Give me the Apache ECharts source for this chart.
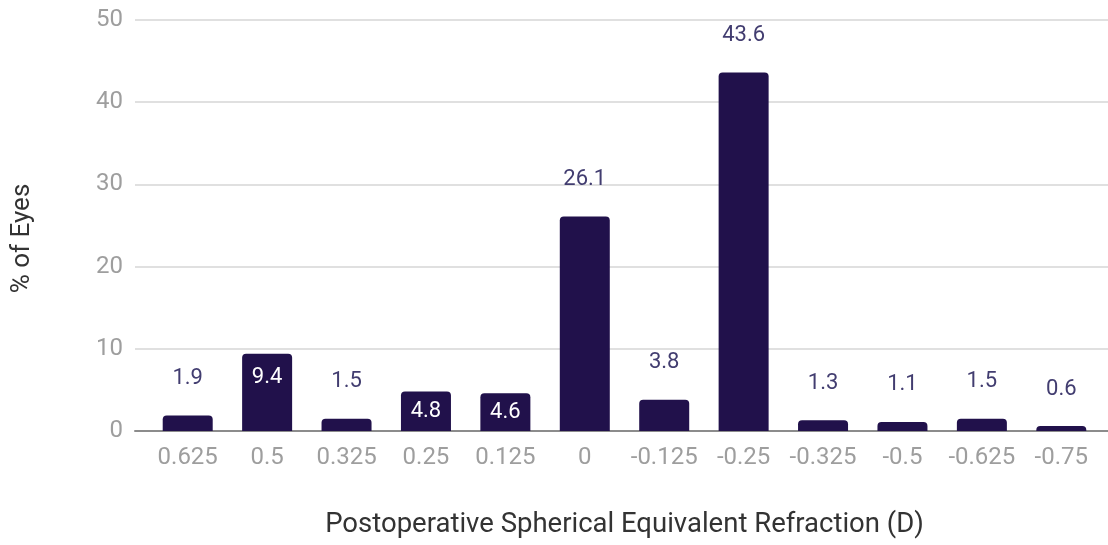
<!DOCTYPE html>
<html>
<head>
<meta charset="utf-8">
<script src="https://cdn.jsdelivr.net/npm/echarts@6/dist/echarts.min.js"></script>
<style>
  html, body { margin: 0; padding: 0; background: #fff; }
  #main { width: 1108px; height: 545px; }
</style>
</head>
<body>
<div id="main"></div>
<script>
var categories = ['0.625', '0.5', '0.325', '0.25', '0.125', '0', '-0.125', '-0.25', '-0.325', '-0.5', '-0.625', '-0.75'];
var eyesPct = [1.9, 9.4, 1.5, 4.8, 4.6, 26.1, 3.8, 43.6, 1.3, 1.1, 1.5, 0.6];
var yTicks = [0, 10, 20, 30, 40, 50];

function initBarChart(id){
    var myChart = echarts.init(document.getElementById(id));

    // labels that sit inside the bar in the original
    var insideTop = {1: true};
    var insideMid = {3: true, 4: true};
    var barData = [];
    for (var i = 0; i < eyesPct.length; i++) {
        var obj = {value: eyesPct[i]};
        if (insideTop[i]) {
            obj.label = {position: 'insideTop', distance: 13, color: '#ffffff'};
        } else if (insideMid[i]) {
            obj.label = {position: 'inside', color: '#ffffff'};
        }
        barData.push(obj);
    }

    var option = {
        animation: false,
        grid: [
            {left: 135, right: 0, top: 20, bottom: 114},
            {left: 148, right: 7, top: 20, bottom: 114}
        ],
        xAxis: [
            {
                gridIndex: 0,
                type: 'value',
                min: 0, max: 1,
                axisLine: {show: true, onZero: false, lineStyle: {color: '#8c8c8c', width: 2}},
                axisTick: {show: false},
                axisLabel: {show: false},
                splitLine: {show: false}
            },
            {
                gridIndex: 1,
                type: 'category',
                data: categories,
                axisLine: {show: false},
                axisTick: {show: false},
                axisLabel: {interval: 0, hideOverlap: false, color: '#9e9e9e', fontSize: 24, fontFamily: 'Roboto', margin: 15},
                name: 'Postoperative Spherical Equivalent Refraction (D)',
                nameLocation: 'middle',
                nameGap: 80,
                nameTextStyle: {color: '#333333', fontSize: 27.5, fontFamily: 'Roboto'}
            }
        ],
        yAxis: [
            {
                gridIndex: 0,
                type: 'value',
                min: yTicks[0],
                max: yTicks[yTicks.length - 1],
                interval: yTicks[1] - yTicks[0],
                axisLine: {show: false},
                axisTick: {show: false},
                axisLabel: {color: '#9e9e9e', fontSize: 24, fontFamily: 'Roboto', margin: 12},
                splitLine: {lineStyle: {color: '#e0e0e0', width: 2}},
                name: '% of Eyes',
                nameLocation: 'middle',
                nameGap: 100,
                nameRotate: 90,
                nameTextStyle: {color: '#333333', fontSize: 26, fontFamily: 'Roboto', padding: [0, 26, 0, 0]}
            },
            {
                gridIndex: 1,
                type: 'value',
                min: yTicks[0],
                max: yTicks[yTicks.length - 1],
                show: false,
                splitLine: {show: false}
            }
        ],
        series: [
            {
                name: '% of Eyes',
                type: 'bar',
                xAxisIndex: 1,
                yAxisIndex: 1,
                barWidth: 50,
                data: barData,
                itemStyle: {color: '#21114b', borderRadius: [4, 4, 0, 0]},
                label: {
                    show: true,
                    position: 'top',
                    distance: 26,
                    color: '#423d70',
                    fontSize: 22,
                    fontFamily: 'Roboto'
                }
            }
        ]
    };
    myChart.setOption(option);
}

initBarChart('main');
</script>
</body>
</html>
